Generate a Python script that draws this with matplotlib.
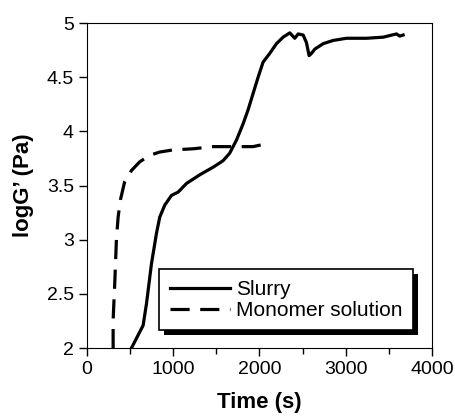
import matplotlib
matplotlib.use("Agg")
import matplotlib.pyplot as plt
from matplotlib.patches import Rectangle
from matplotlib.ticker import MultipleLocator

plt.rcParams['font.family'] = ['Liberation Sans', 'DejaVu Sans']

# Slurry (solid line)
slurry_t = [514, 650, 689, 747, 805, 843, 901, 979, 1056, 1153, 1307, 1462, 1578,
            1655, 1733, 1810, 1868, 1926, 1984, 2042, 2119, 2197, 2274, 2352, 2410,
            2449, 2507, 2545, 2576, 2603, 2642, 2739, 2855, 3009, 3241, 3435, 3590,
            3628, 3667]
slurry_g = [2.00, 2.21, 2.41, 2.78, 3.06, 3.21, 3.32, 3.41, 3.44, 3.52, 3.60, 3.67, 3.73,
            3.80, 3.92, 4.07, 4.20, 4.35, 4.50, 4.64, 4.72, 4.81, 4.87, 4.91, 4.86,
            4.90, 4.89, 4.82, 4.70, 4.72, 4.76, 4.81, 4.84, 4.86, 4.86, 4.87, 4.90,
            4.88, 4.89]

# Monomer solution (dashed line)
mono_t = [302, 302, 321, 340, 360, 387, 437, 515, 611, 727, 843, 998, 1230, 1462,
          1694, 1926, 2042]
mono_g = [2.00, 2.26, 2.60, 3.00, 3.21, 3.37, 3.54, 3.64, 3.72, 3.78, 3.81, 3.83, 3.84,
          3.86, 3.86, 3.86, 3.88]

fig = plt.figure(figsize=(4.56, 4.2), dpi=100)
ax = fig.add_axes([0.191, 0.171, 0.756, 0.774])

ax.plot(slurry_t, slurry_g, color='black', lw=2.3, label='Slurry')
ax.plot(mono_t, mono_g, color='black', lw=2.3, linestyle=(0, (6, 3.3)),
        label='Monomer solution')

ax.set_xlim(0, 4000)
ax.set_ylim(2, 5)
ax.xaxis.set_major_locator(MultipleLocator(1000))
ax.xaxis.set_minor_locator(MultipleLocator(500))
ax.set_yticks([2, 2.5, 3, 3.5, 4, 4.5, 5])
ax.set_yticklabels(['2', '2.5', '3', '3.5', '4', '4.5', '5'])
ax.tick_params(which='major', direction='out', length=6, width=1, labelsize=14)
ax.tick_params(which='minor', direction='out', length=4, width=1)

ax.set_xlabel('Time (s)', fontsize=16, fontweight='bold', labelpad=10)
ax.set_ylabel('logG’ (Pa)', fontsize=16, fontweight='bold', labelpad=9)

leg = ax.legend(loc='lower left', bbox_to_anchor=(0.209, 0.055), borderaxespad=0,
                fontsize=15, fancybox=False, framealpha=1, edgecolor='black',
                handlelength=2.9, handletextpad=0.3, labelspacing=0.1,
                borderpad=0.5)
leg.get_frame().set_linewidth(1.2)
leg.set_zorder(5)

# solid black drop shadow behind the legend box
fig.canvas.draw()
bb = leg.get_window_extent().transformed(fig.transFigure.inverted())
ax.add_artist(Rectangle((bb.x0 + 5 / 456, bb.y0 - 5 / 420), bb.width, bb.height,
                        transform=fig.transFigure, facecolor='black',
                        edgecolor='none', zorder=4, clip_on=False))

fig.savefig('out.png', dpi=100)
